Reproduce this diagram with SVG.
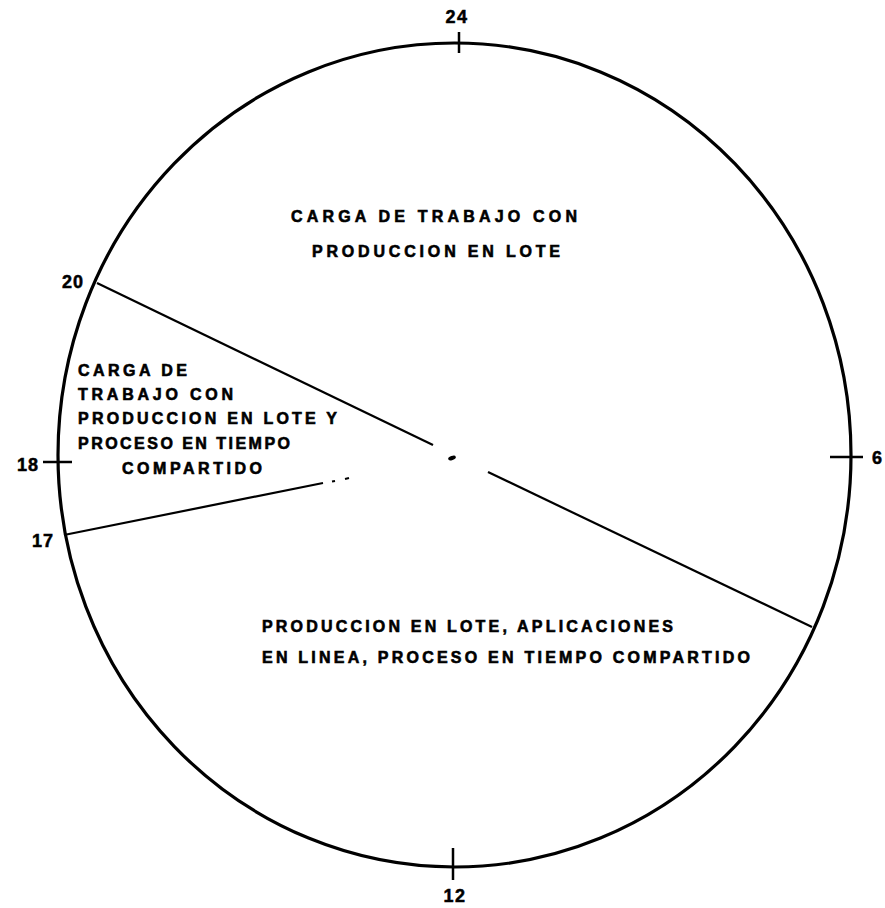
<svg xmlns="http://www.w3.org/2000/svg" width="885" height="908" viewBox="0 0 885 908">
<style>
.o{fill:none;stroke:#000;stroke-width:3.2}
.t{stroke:#000;stroke-width:2.5}
.d{stroke:#000;stroke-width:2.2;fill:none}
.n{font-family:"Liberation Sans",Arial,sans-serif;font-weight:bold;font-size:18px;fill:#000;stroke:#000;stroke-width:0.5}
.l{font-family:"Liberation Sans",Arial,sans-serif;font-weight:bold;font-size:16px;fill:#000;stroke:#000;stroke-width:0.6}
</style>
<rect width="885" height="908" fill="#fff"/>
<g id="dial">
<ellipse class="o" cx="454.5" cy="455" rx="396.5" ry="412"/>
<line class="t" x1="459" y1="32" x2="459" y2="53"/>
<line class="t" x1="453" y1="848" x2="453" y2="880"/>
<line class="t" x1="43" y1="462" x2="72" y2="462"/>
<line class="t" x1="830" y1="457" x2="863" y2="457"/>
</g>
<g id="hour-labels">
<text class="n" x="457" y="23" text-anchor="middle" letter-spacing="1.5">24</text>
<text class="n" x="455" y="902" text-anchor="middle" letter-spacing="1.5">12</text>
<text class="n" x="62" y="288" letter-spacing="1">20</text>
<text class="n" x="17" y="471" letter-spacing="1">18</text>
<text class="n" x="32" y="547" letter-spacing="1">17</text>
<text class="n" x="872" y="464">6</text>
</g>
<g id="connectors">
<line class="d" x1="97" y1="283" x2="433" y2="445"/>
<ellipse cx="452" cy="458" rx="4" ry="2" transform="rotate(-20 452 458)" fill="#000"/>
<line class="d" x1="488" y1="472" x2="812" y2="627"/>
<line class="d" x1="64" y1="535" x2="323" y2="483"/>
<line class="d" x1="332" y1="481.5" x2="335" y2="481"/>
<line class="d" x1="345" y1="479" x2="349" y2="478"/>
</g>
<g id="region-top">
<text class="l" x="291" y="222" textLength="286" lengthAdjust="spacing">CARGA DE TRABAJO CON</text>
<text class="l" x="312" y="257" textLength="248" lengthAdjust="spacing">PRODUCCION EN LOTE</text>
</g>
<g id="region-left">
<text class="l" x="78" y="376" textLength="109" lengthAdjust="spacing">CARGA DE</text>
<text class="l" x="78" y="400" textLength="155" lengthAdjust="spacing">TRABAJO CON</text>
<text class="l" x="78" y="424" textLength="259" lengthAdjust="spacing">PRODUCCION EN LOTE Y</text>
<text class="l" x="78" y="449" textLength="212" lengthAdjust="spacing">PROCESO EN TIEMPO</text>
<text class="l" x="122" y="474" textLength="140" lengthAdjust="spacing">COMPARTIDO</text>
</g>
<g id="region-bottom">
<text class="l" x="262" y="632" textLength="411" lengthAdjust="spacing">PRODUCCION EN LOTE, APLICACIONES</text>
<text class="l" x="262" y="663" textLength="488" lengthAdjust="spacing">EN LINEA, PROCESO EN TIEMPO COMPARTIDO</text>
</g>
</svg>
